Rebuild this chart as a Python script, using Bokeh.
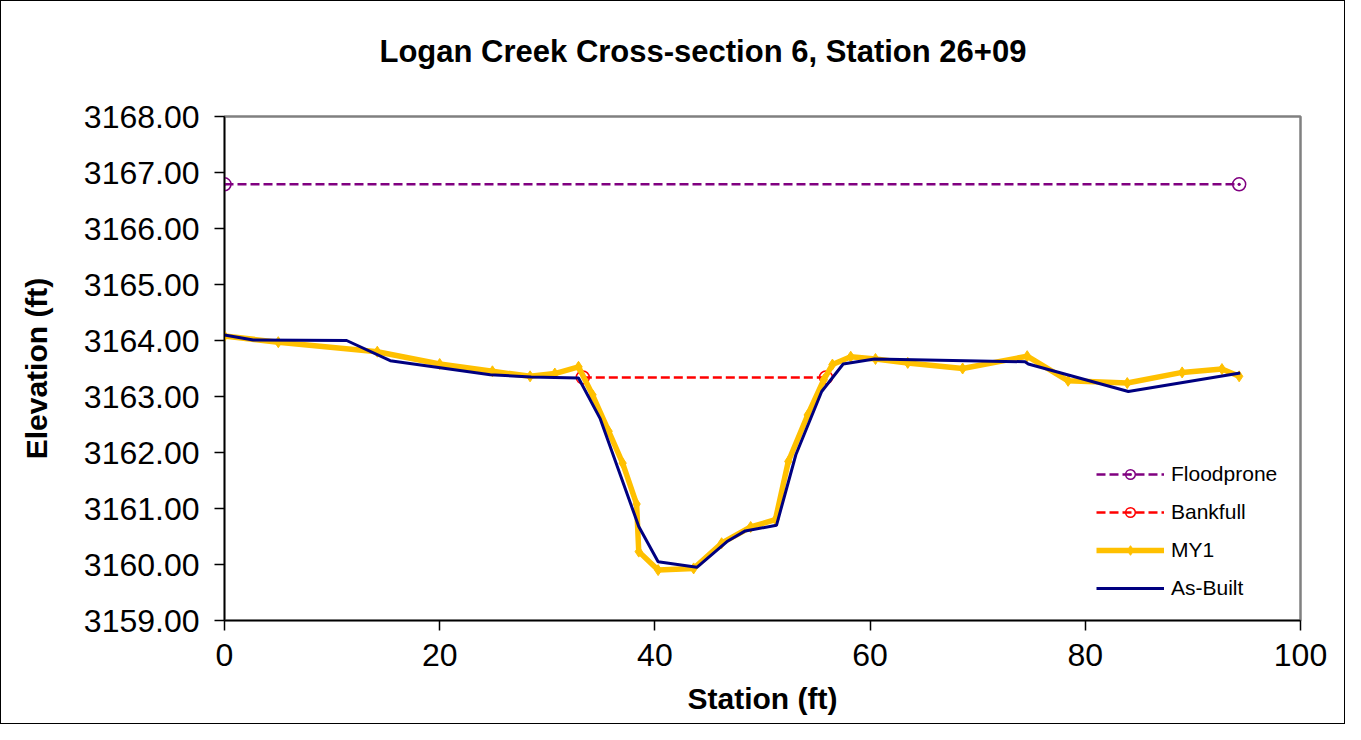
from bokeh.plotting import figure
from bokeh.models import (Range1d, SingleIntervalTicker, NumeralTickFormatter, Legend,
                          LegendItem, Title)
from bokeh.embed import file_html
from bokeh.resources import INLINE

# ---- data ----
flood_x = [0.0, 94.3]
flood_y = [3166.79, 3166.79]

bank_x = [33.3, 55.9]
bank_y = [3163.34, 3163.34]

my1_x = [0.0, 5.0, 14.2, 20.0, 24.9, 28.4, 30.7, 32.9, 34.2, 35.7, 37.0, 38.3, 38.5,
         40.3, 43.6, 46.2, 48.9, 51.2, 52.4, 54.2, 55.7, 56.5, 58.2, 60.5, 63.5,
         68.6, 74.6, 78.4, 83.9, 89.0, 92.7, 94.3]
my1_y = [3164.08, 3163.97, 3163.80, 3163.58, 3163.45, 3163.36, 3163.41, 3163.53,
         3163.03, 3162.38, 3161.81, 3161.08, 3160.23, 3159.90, 3159.93, 3160.38,
         3160.67, 3160.80, 3161.84, 3162.67, 3163.30, 3163.57, 3163.71, 3163.67,
         3163.60, 3163.50, 3163.72, 3163.28, 3163.24, 3163.43, 3163.49, 3163.36]

asb_x = [0.0, 2.67, 11.35, 15.4, 24.7, 28.5, 32.9, 34.9, 38.5, 40.3, 43.9, 46.7,
         48.4, 51.3, 53.1, 55.5, 57.5, 60.4, 74.4, 74.7, 84.0, 94.4]
asb_y = [3164.10, 3164.01, 3164.00, 3163.64, 3163.39, 3163.35, 3163.33, 3162.61,
         3160.68, 3160.05, 3159.95, 3160.41, 3160.60, 3160.70, 3161.96, 3163.09,
         3163.58, 3163.67, 3163.62, 3163.58, 3163.09, 3163.42]

title_text = "Logan Creek Cross-section 6, Station 26+09"
x_label = "Station (ft)"
y_label = "Elevation (ft)"

FONT = "Liberation Sans"

p = figure(width=1345, height=724, output_backend="svg", toolbar_location=None,
           title=None,
           x_range=Range1d(0, 100), y_range=Range1d(3159, 3168),
           min_border_left=223, min_border_right=46, min_border_top=115,
           min_border_bottom=105, background_fill_color="white",
           border_fill_color="white",
           styles={"border": "1px solid black"})

# spacer between frame and title, then the title itself (stacked outward)
p.add_layout(Title(text=" ", text_font=FONT, text_font_size="10px", standoff=35), "above")
p.add_layout(Title(text=title_text, text_font=FONT, text_font_size="31px",
                   text_font_style="bold", text_color="black", align="left",
                   offset=155, standoff=0), "above")

p.xgrid.visible = False
p.ygrid.visible = False
p.outline_line_color = "#808080"
p.outline_line_width = 2.5

for ax in (p.xaxis[0], p.yaxis[0]):
    ax.axis_line_color = "black"
    ax.axis_line_width = 1.5
    ax.major_tick_line_color = "black"
    ax.major_tick_line_width = 1.5
    ax.major_tick_out = 10
    ax.major_tick_in = 0
    ax.minor_tick_out = 0
    ax.minor_tick_in = 0
    ax.major_label_text_font = FONT
    ax.major_label_text_font_size = "32px"
    ax.major_label_text_color = "black"
    ax.axis_label_text_font = FONT
    ax.axis_label_text_font_size = "30px"
    ax.axis_label_text_font_style = "bold"
    ax.axis_label_text_color = "black"

p.xaxis.ticker = SingleIntervalTicker(interval=20)
p.yaxis.ticker = SingleIntervalTicker(interval=1)
p.yaxis.formatter = NumeralTickFormatter(format="0.00")
p.xaxis.axis_label = x_label
p.yaxis.axis_label = y_label
p.xaxis.major_label_standoff = 13
p.yaxis.major_label_standoff = 15
p.xaxis.axis_label_standoff = 13
p.yaxis.axis_label_standoff = 28

# series
fl = p.line(flood_x, flood_y, line_color="#800080", line_width=2.5, line_dash="9 4")
fm = p.scatter(flood_x, flood_y, marker="circle_dot", size=13, line_color="#800080",
               fill_color=None, line_width=1.5)
bl = p.line(bank_x, bank_y, line_color="#FF0000", line_width=2.5, line_dash="9 4")
bm = p.scatter(bank_x, bank_y, marker="circle", size=13, line_color="#FF0000",
               fill_color=None, line_width=1.5)
ml = p.line(my1_x, my1_y, line_color="#FFC000", line_width=5.5)
mm = p.scatter(my1_x, my1_y, marker="diamond", size=11, line_color="#FFC000",
               fill_color="#FFC000")
al = p.line(asb_x, asb_y, line_color="#000080", line_width=3)

legend = Legend(items=[
    LegendItem(label="Floodprone", renderers=[fl, fm]),
    LegendItem(label="Bankfull", renderers=[bl, bm]),
    LegendItem(label="MY1", renderers=[ml, mm]),
    LegendItem(label="As-Built", renderers=[al]),
], location=(872, 20))
legend.label_text_font = FONT
legend.label_text_font_size = "21px"
legend.label_text_color = "black"
legend.glyph_width = 68
legend.glyph_height = 24
legend.label_height = 24
legend.spacing = 14
legend.label_standoff = 7
legend.padding = 0
legend.margin = 0
legend.border_line_color = None
legend.background_fill_alpha = 0
p.add_layout(legend, "center")

open("out.html", "w").write(file_html(p, INLINE))
